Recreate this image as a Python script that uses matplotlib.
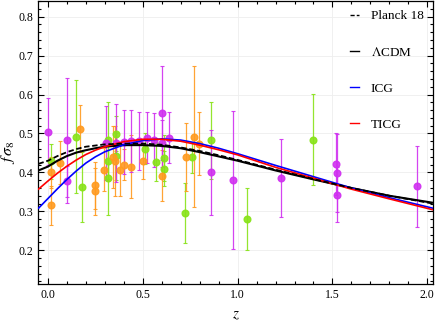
import matplotlib
matplotlib.use('Agg')
import matplotlib.pyplot as plt
from matplotlib.ticker import MultipleLocator

# ---------------- data ----------------
# model curves
z_curve = [-0.05, 0.0, 0.05, 0.1, 0.15, 0.2, 0.25, 0.3, 0.4, 0.5, 0.6, 0.7,
           0.8, 0.9, 1.0, 1.2, 1.4, 1.6, 1.8, 2.03]
fs8_planck = [0.422, 0.430, 0.442, 0.452, 0.460, 0.466, 0.469, 0.472, 0.474,
              0.474, 0.471, 0.464, 0.455, 0.444, 0.432, 0.407, 0.383, 0.360,
              0.340, 0.320]
fs8_lcdm = [0.405, 0.415, 0.430, 0.442, 0.451, 0.457, 0.462, 0.466, 0.470,
            0.470, 0.468, 0.462, 0.452, 0.441, 0.430, 0.405, 0.382, 0.360,
            0.340, 0.322]
fs8_icg = [0.308, 0.333, 0.358, 0.382, 0.404, 0.424, 0.440, 0.453, 0.471,
           0.482, 0.486, 0.483, 0.474, 0.462, 0.448, 0.418, 0.389, 0.360,
           0.335, 0.308]
fs8_ticg = [0.357, 0.378, 0.398, 0.416, 0.432, 0.446, 0.457, 0.466, 0.479,
            0.485, 0.485, 0.480, 0.470, 0.458, 0.445, 0.413, 0.385, 0.357,
            0.332, 0.304]

# observational points: z, f sigma8, error
z_mag = [0.00, 0.10, 0.10, 0.305, 0.36, 0.40, 0.44, 0.48, 0.52, 0.56, 0.60,
         0.60, 0.64, 0.858, 0.978, 1.23, 1.52, 1.523, 1.526, 1.945]
v_mag = [0.505, 0.482, 0.377, 0.475, 0.476, 0.478, 0.480, 0.480, 0.489, 0.483,
         0.552, 0.475, 0.489, 0.400, 0.381, 0.385, 0.422, 0.398, 0.343, 0.364]
e_mag = [0.085, 0.160, 0.040, 0.095, 0.100, 0.083, 0.080, 0.075, 0.065, 0.070,
         0.120, 0.060, 0.065, 0.110, 0.177, 0.100, 0.080, 0.100, 0.070, 0.105]

z_org = [0.017, 0.017, 0.063, 0.17, 0.25, 0.25, 0.297, 0.345, 0.355, 0.38,
         0.40, 0.44, 0.50, 0.60, 0.728, 0.77, 0.798]
v_org = [0.400, 0.315, 0.425, 0.512, 0.367, 0.351, 0.407, 0.439, 0.430, 0.405,
         0.420, 0.415, 0.429, 0.392, 0.439, 0.492, 0.474]
e_org = [0.040, 0.050, 0.055, 0.060, 0.060, 0.060, 0.055, 0.080, 0.090, 0.065,
         0.040, 0.080, 0.045, 0.065, 0.087, 0.180, 0.080]

z_grn = [0.017, 0.148, 0.178, 0.318, 0.318, 0.318, 0.36, 0.36, 0.51, 0.57,
         0.61, 0.61, 0.725, 0.758, 0.858, 1.048, 1.40]
v_grn = [0.428, 0.492, 0.362, 0.482, 0.428, 0.385, 0.499, 0.441, 0.461, 0.427,
         0.437, 0.410, 0.296, 0.439, 0.482, 0.281, 0.484]
e_grn = [0.045, 0.145, 0.090, 0.100, 0.050, 0.095, 0.045, 0.060, 0.040, 0.050,
         0.060, 0.045, 0.077, 0.040, 0.100, 0.080, 0.117]

# ---------------- figure ----------------
plt.rcParams['font.family'] = ['Liberation Serif', 'DejaVu Serif']
plt.rcParams['mathtext.fontset'] = 'stix'

fig = plt.figure(figsize=(4.36, 3.27), dpi=100)
ax = fig.add_axes([0.087, 0.131, 0.906, 0.867])

for zz, vv, ee, col in [(z_grn, v_grn, e_grn, '#88E318'),
                        (z_org, v_org, e_org, '#FF9A1F'),
                        (z_mag, v_mag, e_mag, '#D030F0')]:
    ax.errorbar(zz, vv, yerr=ee, fmt='o', color=col, ecolor=col,
                markersize=4.8, elinewidth=0.9, capsize=1.6, capthick=0.8,
                alpha=0.9, zorder=2)

ax.plot(z_curve, fs8_lcdm, color='black', lw=1.5, zorder=4, label=r'$\Lambda$CDM')
ax.plot(z_curve, fs8_planck, color='black', lw=1.3, dashes=(3, 1.5), zorder=5,
        label='Planck 18')
ax.plot(z_curve, fs8_icg, color='#0000FF', lw=1.2, zorder=4, label='ICG')
ax.plot(z_curve, fs8_ticg, color='#FF0000', lw=1.2, zorder=4, label='TICG')

ax.set_xlim(-0.053, 2.03)
ax.set_ylim(0.113, 0.841)
ax.xaxis.set_major_locator(MultipleLocator(0.5))
ax.xaxis.set_minor_locator(MultipleLocator(0.1))
ax.yaxis.set_major_locator(MultipleLocator(0.1))
ax.yaxis.set_minor_locator(MultipleLocator(0.02))
ax.xaxis.set_major_formatter(plt.FormatStrFormatter('%.1f'))
ax.yaxis.set_major_formatter(plt.FormatStrFormatter('%.1f'))
ax.set_yticks([0.2, 0.3, 0.4, 0.5, 0.6, 0.7, 0.8])
ax.tick_params(which='both', direction='in', top=True, right=True,
               labelsize=8.5, width=0.8)
ax.tick_params(which='major', length=4)
ax.tick_params(which='minor', length=2)
ax.grid(True, which='major', color='#eeeeee', lw=0.6, zorder=0)
for s in ax.spines.values():
    s.set_linewidth(0.9)

ax.set_xlabel(r'$z$', fontsize=11, labelpad=6)
ax.set_ylabel(r'$f\,\sigma_8$', fontsize=11.5)
ax.yaxis.set_label_coords(-0.052, 0.465)

handles, labels = ax.get_legend_handles_labels()
order = [1, 0, 2, 3]
leg = ax.legend([handles[i] for i in order], [labels[i] for i in order],
                loc='upper right', bbox_to_anchor=(1.0, 1.0), frameon=False,
                fontsize=9.5, handlelength=0.7, handletextpad=0.9,
                labelspacing=1.8, borderaxespad=0.3)
for h in leg.get_lines():
    h.set_linewidth(1.0)

fig.savefig('out.png', dpi=100)
